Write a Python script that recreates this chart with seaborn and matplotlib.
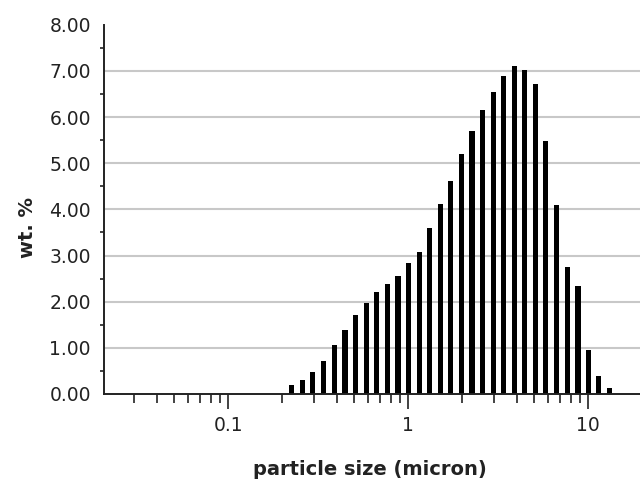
import numpy as np
import pandas as pd
import matplotlib
matplotlib.use("Agg")
import matplotlib.pyplot as plt
import seaborn as sns
from matplotlib.ticker import FixedLocator, LogLocator, NullFormatter, FixedFormatter, MultipleLocator

# ---- data ----
size_micron = [0.225, 0.259, 0.294, 0.337, 0.390, 0.445, 0.510, 0.585, 0.667, 0.764,
               0.877, 1.005, 1.151, 1.315, 1.506, 1.726, 1.980, 2.26, 2.59, 2.97,
               3.40, 3.88, 4.45, 5.10, 5.82, 6.67, 7.64, 8.77, 10.0, 11.47, 13.15]
wt_percent = [0.20, 0.30, 0.48, 0.72, 1.06, 1.38, 1.71, 1.97, 2.21, 2.38,
              2.55, 2.83, 3.08, 3.60, 4.12, 4.61, 5.21, 5.71, 6.16, 6.54,
              6.89, 7.10, 7.03, 6.71, 5.48, 4.09, 2.76, 2.33, 0.95, 0.39, 0.14]
x_ticks = [0.1, 1, 10]
x_tick_labels = ["0.1", "1", "10"]
y_ticks = [0, 1, 2, 3, 4, 5, 6, 7, 8]
y_tick_labels = ["0.00", "1.00", "2.00", "3.00", "4.00", "5.00", "6.00", "7.00", "8.00"]

sns.set_theme(style="white")
plt.rcParams["font.family"] = ["DejaVu Sans"]
text_color = "#222222"

fig = plt.figure(figsize=(6.4, 4.87), dpi=100)
ax = fig.add_axes([0.1625, 0.191, 0.8375, 0.758])
ax.set_xscale("log")

df = pd.DataFrame({"size": size_micron, "wt": wt_percent})
sns.barplot(data=df, x="size", y="wt", native_scale=True, width=0.52,
            color="black", saturation=1, edgecolor="none", errorbar=None, ax=ax, zorder=3)

ax.set_xlim(0.0204, 19.4)
ax.set_ylim(0, 8)

# y axis
ax.yaxis.set_major_locator(FixedLocator(y_ticks))
ax.yaxis.set_major_formatter(FixedFormatter(y_tick_labels))
ax.yaxis.set_minor_locator(MultipleLocator(0.5))
# x axis
ax.xaxis.set_major_locator(FixedLocator(x_ticks))
ax.xaxis.set_major_formatter(FixedFormatter(x_tick_labels))
ax.xaxis.set_minor_locator(LogLocator(base=10, subs=range(2, 10), numticks=20))
ax.xaxis.set_minor_formatter(NullFormatter())

for s in ["top", "right"]:
    ax.spines[s].set_visible(False)
for s in ["left", "bottom"]:
    ax.spines[s].set_color("#222222")
    ax.spines[s].set_linewidth(1.4)
    ax.spines[s].set_zorder(4)

ax.tick_params(axis="y", which="major", direction="out", length=6.5, width=1.2,
               color="#222222", labelsize=13.5, labelcolor=text_color, pad=3)
ax.tick_params(axis="y", which="minor", direction="out", length=3, width=1.2,
               color="#222222", left=True)
ax.tick_params(axis="x", which="major", direction="out", length=10.5, width=1.2,
               color="#222222", labelsize=13.5, labelcolor=text_color, pad=5, bottom=True)
ax.tick_params(axis="x", which="minor", direction="out", length=6.5, width=1.2,
               color="#222222", bottom=True)

ax.yaxis.grid(True, color="#c8c8c8", linewidth=1.5)
ax.xaxis.grid(False)
ax.set_axisbelow(True)
ticks = ax.yaxis.get_major_ticks()
ticks[0].gridline.set_visible(False)
ticks[-1].gridline.set_visible(False)

ax.set_xlabel("particle size (micron)", fontsize=14, fontweight="bold", color=text_color)
ax.set_ylabel("wt. %", fontsize=14, fontweight="bold", color=text_color)
ax.xaxis.set_label_coords(0.496, -0.18)
ax.yaxis.set_label_coords(-0.125, 0.452)

fig.savefig("out.png", dpi=100)
